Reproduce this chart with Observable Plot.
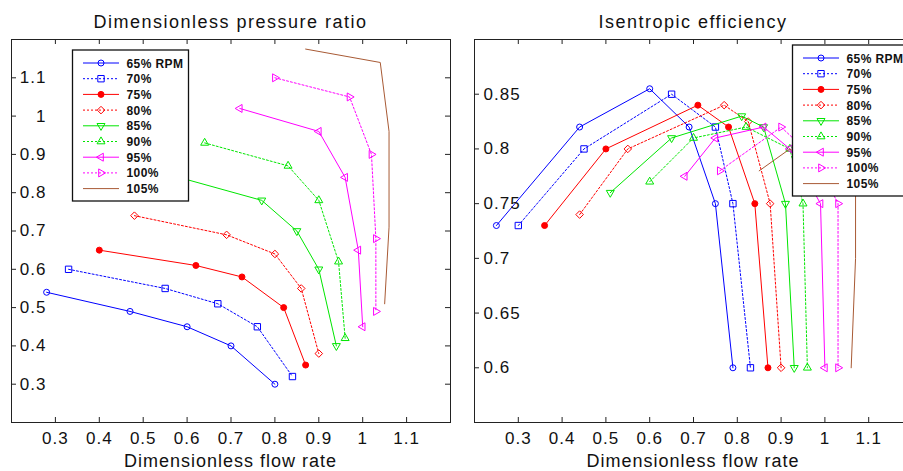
<!DOCTYPE html>
<html><head><meta charset="utf-8">
<script src="https://cdn.jsdelivr.net/npm/d3@7"></script>
<script src="https://cdn.jsdelivr.net/npm/@observablehq/plot@0.6"></script>
<style>
html,body{margin:0;padding:0;background:#fff;}
#wrap{position:relative;width:903px;height:471px;overflow:hidden;background:#fff;}
.panel{position:absolute;top:0;}
#overlay{position:absolute;left:0;top:0;pointer-events:none;}
</style></head>
<body><div id="wrap"><div class="panel" id="left" style="left:0;width:462px"></div><div class="panel" id="right" style="left:462px;width:462px"></div><svg id="overlay" width="903" height="471"></svg></div>
<script>
// ---- labels ----
const seriesNames = ["65% RPM","70%","75%","80%","85%","90%","95%","100%","105%"];
const xTicks = [0.3,0.4,0.5,0.6,0.7,0.8,0.9,1,1.1];
const prYTicks = [0.3,0.4,0.5,0.6,0.7,0.8,0.9,1,1.1];
const effYTicks = [0.6,0.65,0.7,0.75,0.8,0.85];

// ---- pressure ratio [flow, ratio] ----
const pr65  = [[0.28,0.54],[0.47,0.49],[0.60,0.45],[0.70,0.40],[0.80,0.30]];
const pr70  = [[0.33,0.60],[0.55,0.55],[0.67,0.51],[0.76,0.45],[0.84,0.32]];
const pr75  = [[0.40,0.65],[0.62,0.61],[0.725,0.58],[0.82,0.50],[0.87,0.35]];
const pr80  = [[0.48,0.74],[0.69,0.69],[0.80,0.64],[0.86,0.55],[0.90,0.38]];
const pr85  = [[0.55,0.85],[0.77,0.78],[0.85,0.70],[0.90,0.60],[0.94,0.40]];
const pr90  = [[0.64,0.93],[0.83,0.87],[0.90,0.78],[0.945,0.62],[0.96,0.42]];
const pr95  = [[0.72,1.02],[0.90,0.96],[0.96,0.84],[0.99,0.65],[1.00,0.45]];
const pr100 = [[0.80,1.10],[0.97,1.05],[1.02,0.90],[1.03,0.68],[1.03,0.49]];
const pr105 = [[0.87,1.175],[1.04,1.14],[1.06,0.96],[1.06,0.71],[1.05,0.51]];

// ---- isentropic efficiency [flow, efficiency] ----
const ef65  = [[0.25,0.73],[0.44,0.82],[0.60,0.855],[0.69,0.82],[0.75,0.75],[0.79,0.60]];
const ef70  = [[0.30,0.73],[0.45,0.80],[0.65,0.85],[0.75,0.82],[0.79,0.75],[0.83,0.60]];
const ef75  = [[0.36,0.73],[0.50,0.80],[0.71,0.84],[0.78,0.82],[0.84,0.75],[0.87,0.60]];
const ef80  = [[0.44,0.74],[0.55,0.80],[0.77,0.84],[0.825,0.825],[0.875,0.75],[0.90,0.60]];
const ef85  = [[0.51,0.76],[0.65,0.81],[0.81,0.83],[0.86,0.82],[0.91,0.75],[0.93,0.60]];
const ef90  = [[0.60,0.77],[0.70,0.81],[0.82,0.82],[0.92,0.80],[0.95,0.75],[0.96,0.60]];
const ef95  = [[0.68,0.775],[0.75,0.81],[0.86,0.82],[0.92,0.80],[0.99,0.75],[1.00,0.60]];
const ef100 = [[0.76,0.78],[0.90,0.82],[0.98,0.79],[1.03,0.75],[1.03,0.60]];
const ef105 = [[0.85,0.78],[0.92,0.80],[1.07,0.76],[1.07,0.70],[1.06,0.60]];

const prSeries = [pr65,pr70,pr75,pr80,pr85,pr90,pr95,pr100,pr105];
const efSeries = [ef65,ef70,ef75,ef80,ef85,ef90,ef95,ef100,ef105];

// ---- styles ----
const sqrt3 = Math.sqrt(3);
function tri(dir){
  return {draw(ctx, size){
    const s = Math.sqrt(size)*0.6824, t = s/2, u = s*sqrt3/2;
    if (dir==="up"){ctx.moveTo(0,-s);ctx.lineTo(u,t);ctx.lineTo(-u,t);}
    else if (dir==="down"){ctx.moveTo(0,s);ctx.lineTo(u,-t);ctx.lineTo(-u,-t);}
    else if (dir==="left"){ctx.moveTo(-s,0);ctx.lineTo(t,-u);ctx.lineTo(t,u);}
    else {ctx.moveTo(s,0);ctx.lineTo(-t,-u);ctx.lineTo(-t,u);}
    ctx.closePath();
  }};
}
const colors  = ["#0000ff","#0000ff","#ff0000","#ff0000","#00e600","#00e600","#ff00ff","#ff00ff","#a85a35"];
const dashes  = [null,"2,2",null,"2,2",null,"2,2",null,"2,2",null];
const symbols = [d3.symbolCircle, d3.symbolSquare, d3.symbolCircle, d3.symbolDiamond2, tri("down"), tri("up"), tri("left"), tri("right"), null];
const radii   = [3, 3.6, 3, 3.4, 3.8, 3.8, 3.8, 3.8, 0];
const fills   = ["none","none","#ff0000","none","none","none","none","none","none"];

const fmt = d => String(d);
const baseStyle = {fontFamily:"'Liberation Sans', Arial, sans-serif", fontSize:"17px", letterSpacing:"1px", color:"#111", background:"transparent", overflow:"visible"};
const W = 462, H = 471, MT = 39, MB = 49, TICK = 5;

function seriesMarks(series){
  const m = [];
  series.forEach((pts,i)=>{
    m.push(Plot.line(pts,{x:d=>d[0],y:d=>d[1],stroke:colors[i],strokeWidth:1,strokeDasharray:dashes[i]||undefined}));
    if (symbols[i]) m.push(Plot.dot(pts,{x:d=>d[0],y:d=>d[1],symbol:symbols[i],r:radii[i],stroke:colors[i],fill:fills[i],strokeWidth:1}));
  });
  return m;
}
function frameMarks(yTicks, yAnchorText, yDx, ml, mr){
  const fw = W - ml - mr, fh = H - MT - MB;
  return [
    Plot.frame({stroke:"#222",strokeWidth:1}),
    Plot.ruleX(xTicks,{x:d=>d,insetTop:fh-TICK,stroke:"#222"}),
    Plot.ruleX(xTicks,{x:d=>d,insetBottom:fh-TICK,stroke:"#222"}),
    Plot.ruleY(yTicks,{y:d=>d,insetRight:fw-TICK,stroke:"#222"}),
    Plot.ruleY(yTicks,{y:d=>d,insetLeft:fw-TICK,stroke:"#222"}),
    Plot.axisX({anchor:"bottom",ticks:xTicks,tickSize:0,tickPadding:9,tickFormat:fmt,label:null}),
    Plot.text(yTicks,{y:d=>d,text:fmt,frameAnchor:"left",textAnchor:yAnchorText,dx:yDx,fill:"#111"})
  ];
}

const left = Plot.plot({
  width:W,height:H,marginLeft:11,marginRight:12,marginTop:MT,marginBottom:MB,
  style:baseStyle,
  x:{domain:[0.2,1.2],label:null},
  y:{domain:[0.2,1.2],label:null,axis:null},
  marks:[...seriesMarks(prSeries), ...frameMarks(prYTicks,"end",35,11,12)]
});
document.getElementById("left").appendChild(left);

const right = Plot.plot({
  width:W,height:H,marginLeft:12,marginRight:12,marginTop:MT,marginBottom:MB,
  style:baseStyle,
  x:{domain:[0.2,1.2],label:null},
  y:{domain:[0.55,0.9],label:null,axis:null},
  marks:[...seriesMarks(efSeries), ...frameMarks(effYTicks,"start",9,12,12)]
});
document.getElementById("right").appendChild(right);

// ---- overlay: titles, axis labels, legends ----
const svg = d3.select("#overlay").style("font-family","'Liberation Sans', Arial, sans-serif");
const titles = [
  {t:"Dimensionless pressure ratio", x:230.5, y:28},
  {t:"Isentropic efficiency", x:693, y:28}
];
titles.forEach(o=>svg.append("text").attr("x",o.x).attr("y",o.y).attr("text-anchor","middle")
  .attr("font-size",18).attr("letter-spacing","1.5px").attr("fill","#111").text(o.t));
[230.5,693].forEach(x=>svg.append("text").attr("x",x).attr("y",466.5).attr("text-anchor","middle")
  .attr("font-size",18).attr("letter-spacing","1px").attr("fill","#111").text("Dimensionless flow rate"));

function legend(x0,y0){
  const g = svg.append("g").attr("transform",`translate(${x0},${y0})`);
  g.append("rect").attr("width",116).attr("height",151).attr("fill","#fff").attr("stroke","#111").attr("stroke-width",1.3);
  seriesNames.forEach((name,i)=>{
    const y = 13 + i*15.7;
    g.append("line").attr("x1",10.5).attr("x2",46.5).attr("y1",y).attr("y2",y)
      .attr("stroke",colors[i]).attr("stroke-width",1).attr("stroke-dasharray",dashes[i]);
    if (symbols[i]) g.append("path").attr("transform",`translate(28.5,${y})`)
      .attr("d",d3.symbol().type(symbols[i]).size(radii[i]*radii[i]*Math.PI)())
      .attr("stroke",colors[i]).attr("fill",fills[i]).attr("stroke-width",1);
    g.append("text").attr("x",54).attr("y",y+4.5).attr("font-size",12).attr("font-weight","bold")
      .attr("letter-spacing","0.4px").attr("fill","#111").text(name);
  });
}
legend(72.5,50);
legend(792.5,45);
</script></body></html>
